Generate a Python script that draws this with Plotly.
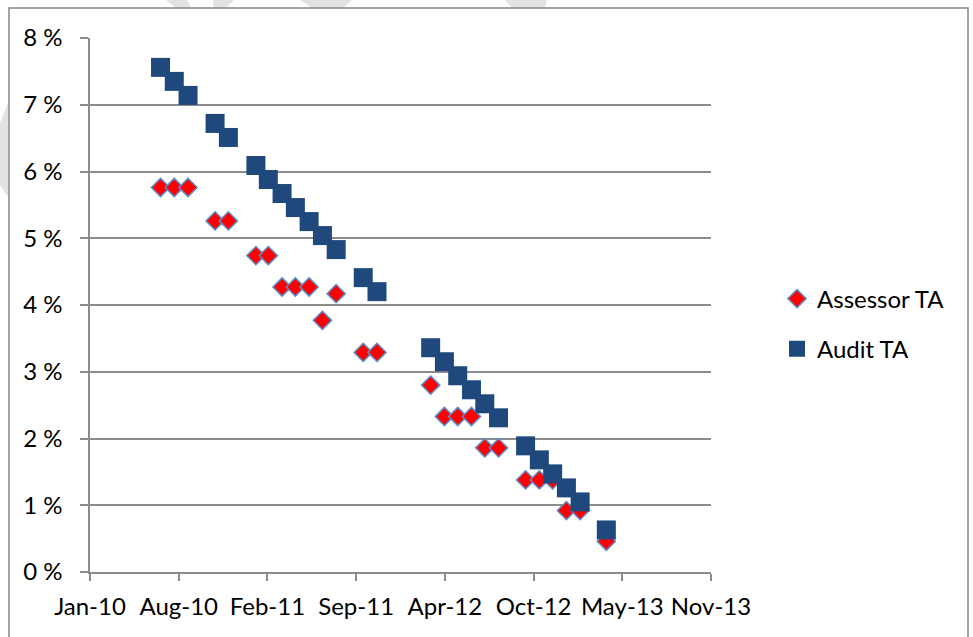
import pandas as pd
import plotly.graph_objects as go

# Monthly observation dates
dates = [
    "2010-07-01", "2010-08-01", "2010-09-01", "2010-11-01", "2010-12-01",
    "2011-02-01", "2011-03-01", "2011-04-01", "2011-05-01", "2011-06-01",
    "2011-07-01", "2011-08-01", "2011-10-01", "2011-11-01", "2012-03-01",
    "2012-04-01", "2012-05-01", "2012-06-01", "2012-07-01", "2012-08-01",
    "2012-10-01", "2012-11-01", "2012-12-01", "2013-01-01", "2013-02-01",
    "2013-04-01",
]

# Values in percent
assessor_ta = [
    5.76, 5.76, 5.76, 5.26, 5.26,
    4.74, 4.74, 4.27, 4.27, 4.27,
    3.77, 4.17, 3.29, 3.29, 2.80,
    2.33, 2.33, 2.33, 1.86, 1.86,
    1.38, 1.38, 1.38, 0.92, 0.92,
    0.46,
]
audit_ta = [
    7.56, 7.35, 7.14, 6.72, 6.51,
    6.09, 5.88, 5.67, 5.46, 5.25,
    5.04, 4.83, 4.41, 4.20, 3.36,
    3.15, 2.94, 2.73, 2.52, 2.31,
    1.89, 1.68, 1.47, 1.26, 1.05,
    0.63,
]

# Date axis: 200-day major unit
x_start = pd.Timestamp("2010-01-23")
x_ticks = pd.date_range(x_start, periods=8, freq="200D")
x_labels = ["Jan-10", "Aug-10", "Feb-11", "Sep-11", "Apr-12", "Oct-12", "May-13", "Nov-13"]

y_ticks = [0, 1, 2, 3, 4, 5, 6, 7, 8]
y_labels = [f"{v} %" for v in y_ticks]

FONT = "Lato, 'Open Sans', sans-serif"
GRID = "#8c8c8c"

W, H = 973, 637
ML, MR, MT, MB = 90, 262, 38, 65
PW, PH = W - ML - MR, H - MT - MB


def px(x, y):
    """Pixel position -> paper coordinates."""
    return (x - ML) / PW, (H - MB - y) / PH


def poly(points):
    pts = [px(x, y) for x, y in points]
    return "M " + " L ".join(f"{a:.5f},{b:.5f}" for a, b in pts) + " Z"


fig = go.Figure()

fig.add_trace(go.Scatter(
    x=dates, y=assessor_ta, mode="markers", name="Assessor TA",
    legendgroup="a",
    marker=dict(symbol="diamond", size=14, color="#FF0000",
                line=dict(color="#5B8BC9", width=1.5)),
))
fig.add_trace(go.Scatter(
    x=dates, y=audit_ta, mode="markers", name="Audit TA",
    legendgroup="b",
    marker=dict(symbol="square", size=19, color="#1F497D",
                line=dict(width=0)),
))

shapes = []
# faint background watermark fragments
for pts in [
    [(8, 103), (8, 197), (0, 185), (0, 123)],
    [(166, 0), (187, 0), (191, 8), (176, 8)],
    [(213, 0), (234, 0), (226, 8), (214, 8)],
    [(300, 0), (352, 0), (343, 8), (312, 8)],
    [(505, 0), (547, 0), (545, 8), (512, 8)],
]:
    shapes.append(dict(type="path", xref="paper", yref="paper", path=poly(pts),
                       fillcolor="#e2e2e2", line=dict(width=0), layer="below"))

# chart-area frame
x0, y0 = px(9, 8)
x1, y1 = px(968, 660)
shapes.append(dict(type="rect", xref="paper", yref="paper", x0=x0, y0=y1, x1=x1, y1=y0,
                   line=dict(color="#868686", width=1.5), fillcolor="rgba(0,0,0,0)",
                   layer="below"))

fig.update_layout(
    width=W, height=H,
    margin=dict(l=ML, r=MR, t=MT, b=MB),
    paper_bgcolor="white", plot_bgcolor="white",
    font=dict(family=FONT, size=24, color="#000000"),
    showlegend=True,
    legend=dict(
        x=px(777, 0)[0], y=px(0, 324)[1], xanchor="left", yanchor="middle",
        bgcolor="rgba(0,0,0,0)", font=dict(family=FONT, size=24, color="#000000"),
        traceorder="grouped", tracegroupgap=16, itemwidth=30,
    ),
    shapes=shapes,
    xaxis=dict(
        type="date",
        range=[x_ticks[0], x_ticks[-1]],
        tickmode="array", tickvals=list(x_ticks), ticktext=x_labels,
        ticks="outside", ticklen=7, tickwidth=1.5, tickcolor=GRID,
        showline=True, linecolor=GRID, linewidth=1.5,
        showgrid=False, zeroline=False,
        ticklabelstandoff=5,
        tickfont=dict(family=FONT, size=24, color="#000000"),
    ),
    yaxis=dict(
        range=[0, 8],
        tickmode="array", tickvals=y_ticks, ticktext=y_labels,
        ticks="outside", ticklen=8, tickwidth=1.5, tickcolor=GRID,
        showline=True, linecolor=GRID, linewidth=1.5,
        showgrid=True, gridcolor=GRID, gridwidth=1.5,
        zeroline=False,
        ticklabelstandoff=13,
        tickfont=dict(family=FONT, size=24, color="#000000"),
    ),
)

fig.write_html("out.html")
